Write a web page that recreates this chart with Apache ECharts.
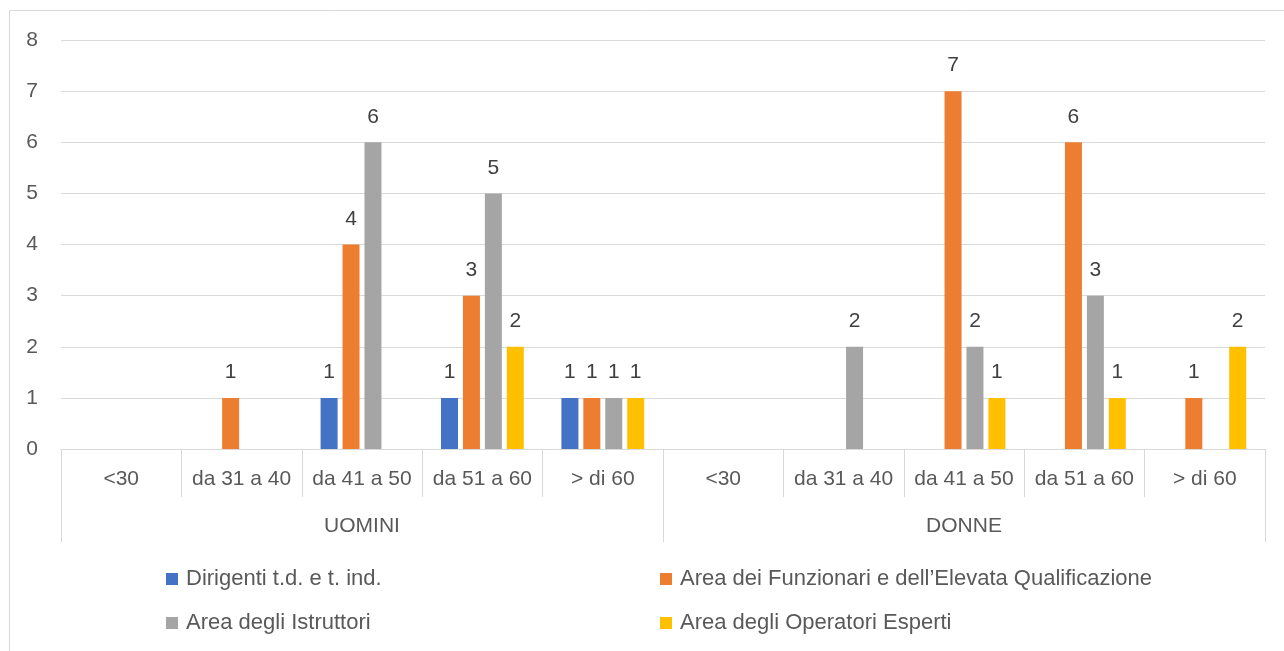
<!DOCTYPE html>
<html>
<head>
<meta charset="utf-8">
<script src="https://cdn.jsdelivr.net/npm/echarts@6/dist/echarts.min.js"></script>
<style>
  html, body { margin: 0; padding: 0; background: #ffffff; }
  #chart { width: 1284px; height: 651px; }
</style>
</head>
<body>
<div id="chart"></div>
<script>
// Age bands, repeated for each gender group
const ageBands = ['<30', 'da 31 a 40', 'da 41 a 50', 'da 51 a 60', '> di 60'];
const genders = ['UOMINI', 'DONNE'];
const categories = genders.flatMap(() => ageBands);

// Headcount per staff area (UOMINI first five, DONNE last five); null = no staff
const dirigenti   = [null, null, 1, 1, 1,   null, null, null, null, null];
const funzionari  = [null, 1, 4, 3, 1,      null, null, 7, 6, 1];
const istruttori  = [null, null, 6, 5, 1,   null, 2, 2, 3, null];
const operatori   = [null, null, null, 2, 1, null, null, 1, 1, 2];

const seriesNames = [
  'Dirigenti t.d. e t. ind.',
  'Area dei Funzionari e dell\u2019Elevata Qualificazione',
  'Area degli Istruttori',
  'Area degli Operatori Esperti'
];
const seriesValues = [dirigenti, funzionari, istruttori, operatori];
const colors = ['#4472C4', '#ED7D31', '#A5A5A5', '#FFC000'];
const yTicks = { min: 0, max: 8, interval: 1 };

const FONT = 'Liberation Sans';
const gridColor = '#D9D9D9';

const chart = echarts.init(document.getElementById('chart'));

const legendBase = {
  orient: 'vertical',
  top: 568,
  padding: 0,
  itemWidth: 12, itemHeight: 12, itemGap: 22,
  icon: 'rect',
  textStyle: { fontFamily: FONT, fontSize: 22, color: '#595959', padding: [0, 0, 0, 3] }
};

chart.setOption({
  animation: false,
  color: colors,
  textStyle: { fontFamily: FONT },
  grid: { left: 61, right: 19, top: 40, bottom: 202, containLabel: false },
  legend: [
    Object.assign({}, legendBase, { left: 166, data: [seriesNames[0], seriesNames[2]] }),
    Object.assign({}, legendBase, { left: 660, data: [seriesNames[1], seriesNames[3]] })
  ],
  graphic: [{
    type: 'rect',
    silent: true,
    shape: { x: 9.5, y: 10.5, width: 1300, height: 700 },
    style: { fill: 'none', stroke: gridColor, lineWidth: 1 }
  }],
  xAxis: [
    {
      type: 'category',
      data: categories,
      position: 'bottom',
      axisLine: { show: true, lineStyle: { color: gridColor } },
      axisTick: { show: true, interval: 0, length: 48, lineStyle: { color: gridColor } },
      axisLabel: { interval: 0, margin: 20, fontSize: 21, color: '#595959', fontFamily: FONT }
    },
    {
      type: 'category',
      data: genders,
      position: 'bottom',
      axisLine: { show: false },
      axisTick: { show: true, interval: 0, length: 93, lineStyle: { color: gridColor } },
      axisLabel: { interval: 0, margin: 67, fontSize: 21, color: '#595959', fontFamily: FONT }
    }
  ],
  yAxis: {
    type: 'value',
    min: yTicks.min, max: yTicks.max, interval: yTicks.interval,
    axisLine: { show: false },
    axisTick: { show: false },
    axisLabel: { margin: 23, fontSize: 21, color: '#595959', fontFamily: FONT },
    splitLine: { lineStyle: { color: gridColor } }
  },
  series: seriesNames.map((name, i) => ({
    name,
    type: 'bar',
    xAxisIndex: 0,
    data: seriesValues[i],
    barWidth: 17,
    barGap: '29%',
    label: {
      show: true,
      position: 'top',
      distance: 15,
      fontSize: 21,
      color: '#404040',
      fontFamily: FONT
    }
  }))
});
</script>
</body>
</html>
